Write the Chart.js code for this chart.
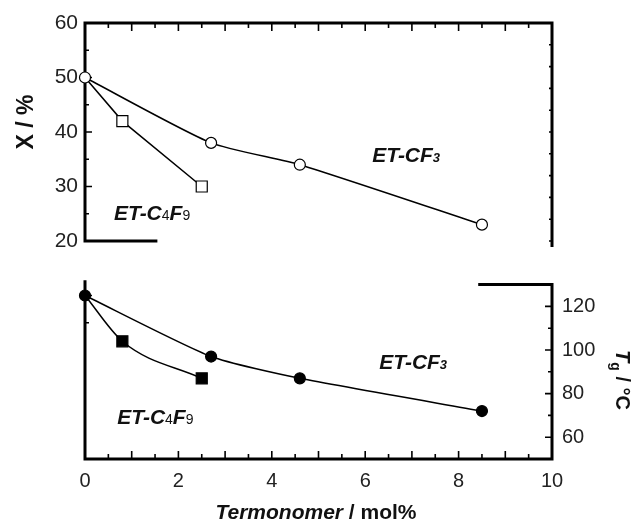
<!DOCTYPE html>
<html>
<head>
<meta charset="utf-8">
<script src="https://cdn.jsdelivr.net/npm/chart.js@4.4.1/dist/chart.umd.min.js"></script>
<style>
  html, body { margin: 0; padding: 0; background: #fff; }
  #wrap { position: relative; width: 643px; height: 522px; }
</style>
</head>
<body>
<div id="wrap"><canvas id="polyChart"></canvas></div>
<script>
// termonomer content, mol%
const cf3Content = [0, 2.7, 4.6, 8.5];
const c4f9Content = [0, 0.8, 2.5];
// crystallinity X, %
const cf3Cryst = [50, 38, 34, 23];
const c4f9Cryst = [50, 42, 30];
// glass transition Tg, °C
const cf3Tg = [125, 97, 87, 72];
const c4f9Tg = [125, 104, 87];

const xTickLabels = [0, 2, 4, 6, 8, 10];
const crystTickLabels = [20, 30, 40, 50, 60];
const tgTickLabels = [60, 80, 100, 120];

const FONT = '"Liberation Sans", Arial, Helvetica, sans-serif';

function pairs(xs, ys) {
    return xs.map((v, i) => ({ x: v, y: ys[i] }));
}

// first point of the C4F9 series is shared with the CF3 marker
function hideFirst(r) {
    return ctx => ctx.dataIndex === 0 ? 0 : r;
}

function drawRuns(ctx, runs, x, y, align) {
    let total = 0;
    runs.forEach(r => { ctx.font = r[1]; total += ctx.measureText(r[0]).width; });
    let cx = align === 'center' ? x - total / 2 : x;
    runs.forEach(r => {
        ctx.font = r[1];
        ctx.fillText(r[0], cx, y + (r[2] || 0));
        cx += ctx.measureText(r[0]).width;
    });
}

const axisFrame = {
    id: 'axisFrame',
    beforeDatasetsDraw(chart) {
        const ctx = chart.ctx;
        const px = v => chart.scales.x.getPixelForValue(v);
        const pX = v => chart.scales.yX.getPixelForValue(v);
        const pT = v => chart.scales.yT.getPixelForValue(v);
        ctx.save();
        ctx.strokeStyle = '#000';
        ctx.lineJoin = 'miter';
        ctx.lineWidth = 3;

        // upper frame: short base, left axis, top edge, right edge
        ctx.beginPath();
        ctx.moveTo(px(1.55), pX(20));
        ctx.lineTo(px(0), pX(20));
        ctx.lineTo(px(0), pX(60));
        ctx.lineTo(px(10), pX(60));
        ctx.lineTo(px(10), pX(18.9));
        ctx.stroke();

        // lower frame: left axis, bottom axis, right axis, short cap
        ctx.beginPath();
        ctx.moveTo(px(0), pX(12.8));
        ctx.lineTo(px(0), pT(50));
        ctx.lineTo(px(10), pT(50));
        ctx.lineTo(px(10), pT(130));
        ctx.lineTo(px(8.42), pT(130));
        ctx.stroke();

        ctx.lineWidth = 1.6;
        ctx.beginPath();
        for (let v = 0.5; v < 10; v += 0.5) {
            const len = Number.isInteger(v) ? 8 : 5;
            ctx.moveTo(px(v), pX(60));
            ctx.lineTo(px(v), pX(60) + len);
            ctx.moveTo(px(v), pT(50));
            ctx.lineTo(px(v), pT(50) - len);
        }
        [5, 10, 25, 30, 35, 40, 45, 50, 55].forEach(v => {
            const len = v % 10 === 0 ? 7 : 4;
            ctx.moveTo(px(0), pX(v));
            ctx.lineTo(px(0) + len, pX(v));
        });
        for (let v = 60; v <= 120; v += 10) {
            const len = v % 20 === 0 ? 7 : 4;
            ctx.moveTo(px(10), pT(v));
            ctx.lineTo(px(10) - len, pT(v));
        }
        for (let v = 150; v <= 240; v += 10) {
            ctx.moveTo(px(10), pT(v));
            ctx.lineTo(px(10) - 3, pT(v));
        }
        ctx.stroke();
        ctx.restore();
    },
    afterDraw(chart) {
        const ctx = chart.ctx;
        const px = v => chart.scales.x.getPixelForValue(v);
        const pX = v => chart.scales.yX.getPixelForValue(v);
        const pT = v => chart.scales.yT.getPixelForValue(v);
        const bi = s => 'italic bold ' + s + 'px ' + FONT;
        const b = s => 'bold ' + s + 'px ' + FONT;
        const n = s => s + 'px ' + FONT;
        ctx.save();
        ctx.fillStyle = '#111';
        ctx.textBaseline = 'alphabetic';

        // series labels
        const cf3Label = [['ET-CF', bi(21)], ['3', bi(13)]];
        const c4f9Label = [['ET-C', bi(21)], ['4', n(14)], ['F', bi(21)], ['9', n(14)]];
        drawRuns(ctx, cf3Label, px(6.15), pX(34.5));
        drawRuns(ctx, c4f9Label, px(0.62), pX(23.9));
        drawRuns(ctx, cf3Label, px(6.3), pT(91.3));
        drawRuns(ctx, c4f9Label, px(0.69), pT(66));

        // axis titles
        drawRuns(ctx, [['Termonomer', bi(21)], [' / mol%', b(21)]], 316, 519, 'center');

        ctx.save();
        ctx.translate(25, 122);
        ctx.rotate(-Math.PI / 2);
        drawRuns(ctx, [['X / %', b(23)]], 0, 8, 'center');
        ctx.restore();

        ctx.save();
        ctx.translate(623, 380);
        ctx.rotate(Math.PI / 2);
        drawRuns(ctx, [['T', bi(20)], ['g', b(14), 5], [' / \u00b0C', b(20)]], 0, 7, 'center');
        ctx.restore();

        ctx.restore();
    }
};

const lineStyle = {
    borderColor: '#000',
    borderWidth: 1.5,
    tension: 0.2,
    pointBorderColor: '#000',
    pointBorderWidth: 1.2,
    clip: false
};

new Chart(document.getElementById('polyChart'), {
    type: 'line',
    data: {
        datasets: [
            Object.assign({}, lineStyle, {
                label: 'ET-CF3 X',
                data: pairs(cf3Content, cf3Cryst),
                yAxisID: 'yX',
                pointStyle: 'circle',
                pointRadius: 5.5,
                pointBackgroundColor: '#fff'
            }),
            Object.assign({}, lineStyle, {
                label: 'ET-C4F9 X',
                data: pairs(c4f9Content, c4f9Cryst),
                yAxisID: 'yX',
                tension: 0,
                pointStyle: 'rect',
                pointRadius: hideFirst(7.8),
                pointBackgroundColor: '#fff'
            }),
            Object.assign({}, lineStyle, {
                label: 'ET-CF3 Tg',
                data: pairs(cf3Content, cf3Tg),
                yAxisID: 'yT',
                pointStyle: 'circle',
                pointRadius: 5.5,
                pointBackgroundColor: '#000'
            }),
            Object.assign({}, lineStyle, {
                label: 'ET-C4F9 Tg',
                data: pairs(c4f9Content, c4f9Tg),
                yAxisID: 'yT',
                cubicInterpolationMode: 'monotone',
                pointStyle: 'rect',
                pointRadius: hideFirst(7.8),
                pointBackgroundColor: '#000'
            })
        ]
    },
    options: {
        responsive: true,
        maintainAspectRatio: false,
        animation: false,
        layout: { padding: { top: 23, left: 0, right: 0, bottom: 0 } },
        scales: {
            x: {
                type: 'linear',
                position: 'bottom',
                min: 0,
                max: 10,
                grid: { display: false, drawTicks: false },
                border: { display: false },
                afterBuildTicks: s => { s.ticks = xTickLabels.map(v => ({ value: v })); },
                afterFit: s => { s.height = 63; },
                ticks: { color: '#222', padding: 10, maxRotation: 0, font: { family: FONT, size: 20 } }
            },
            yX: {
                type: 'linear',
                position: 'left',
                min: -20,
                max: 60,
                grid: { display: false, drawTicks: false },
                border: { display: false },
                afterBuildTicks: s => { s.ticks = crystTickLabels.map(v => ({ value: v })); },
                afterFit: s => { s.width = 85; },
                ticks: { color: '#222', padding: 7, font: { family: FONT, size: 21 } }
            },
            yT: {
                type: 'linear',
                position: 'right',
                min: 50,
                max: 250,
                grid: { display: false, drawTicks: false },
                border: { display: false },
                afterBuildTicks: s => { s.ticks = tgTickLabels.map(v => ({ value: v })); },
                afterFit: s => { s.width = 91; },
                ticks: { color: '#222', padding: 10, font: { family: FONT, size: 20 } }
            }
        },
        plugins: {
            legend: { display: false },
            tooltip: { enabled: false }
        }
    },
    plugins: [axisFrame]
});
</script>
</body>
</html>
